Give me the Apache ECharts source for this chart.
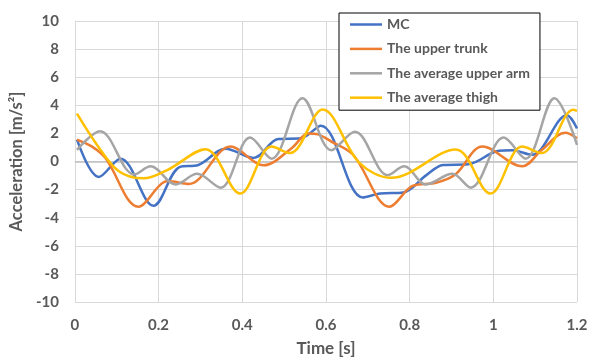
<!DOCTYPE html>
<html>
<head>
<meta charset="utf-8">
<script src="https://cdn.jsdelivr.net/npm/echarts@6/dist/echarts.min.js"></script>
<style>
  html, body { margin: 0; padding: 0; background: #fff; }
  #chart { width: 594px; height: 362px; }
</style>
</head>
<body>
<div id="chart"></div>
<script>
// time [s], acceleration [m/s²]
const mcPoints = [
  [0.005, 1.55], [0.057, -1.1], [0.109, 0.2], [0.188, -3.15], [0.25, -0.4],
  [0.295, -0.25], [0.36, 0.9], [0.427, 0.25], [0.486, 1.6], [0.54, 1.65],
  [0.588, 2.55], [0.688, -2.56], [0.73, -2.28], [0.785, -2.2], [0.84, -0.97],
  [0.88, -0.25], [0.94, -0.2], [1.013, 0.76], [1.045, 0.8], [1.092, 0.48],
  [1.176, 3.3], [1.2, 2.35]
];
const trunkPoints = [
  [0.005, 1.55], [0.041, 1.06], [0.073, 0.25], [0.152, -3.22], [0.223, -1.39],
  [0.272, -1.6], [0.372, 1.06], [0.451, -0.27], [0.518, 0.95], [0.558, 2.0],
  [0.581, 1.93], [0.613, 1.42], [0.665, 0.48], [0.752, -3.22], [0.807, -1.74],
  [0.863, -1.51], [0.91, -0.9], [0.974, 1.06], [1.069, -0.34], [1.116, 0.83],
  [1.172, 2.05], [1.2, 1.65]
];
const armPoints = [
  [0.005, 0.83], [0.06, 2.16], [0.142, -0.92], [0.181, -0.34], [0.241, -1.63],
  [0.292, -0.88], [0.348, -1.86], [0.419, 1.7], [0.47, 0.2], [0.544, 4.5],
  [0.613, 0.8], [0.669, 2.12], [0.748, -0.97], [0.787, -0.34], [0.839, -1.63],
  [0.902, -0.88], [0.946, -1.86], [1.025, 1.7], [1.077, 0.2], [1.146, 4.5],
  [1.2, 1.18]
];
const thighPoints = [
  [0.005, 3.4], [0.053, 1.18], [0.105, -0.69], [0.164, -1.2], [0.223, -0.57],
  [0.312, 0.88], [0.395, -2.28], [0.47, 1.06], [0.514, 0.6], [0.592, 3.7],
  [0.68, -0.1], [0.756, -1.16], [0.91, 0.85], [0.993, -2.28], [1.069, 1.06],
  [1.116, 0.6], [1.191, 3.68], [1.2, 3.6]
];
const seriesNames = ['MC', 'The upper trunk', 'The average upper arm', 'The average thigh'];
const seriesColors = ['#4472C4', '#ED7D31', '#A5A5A5', '#FFC000'];

const textColor = '#595959';
const font = 'Lato, "Open Sans", sans-serif';

const chart = echarts.init(document.getElementById('chart'));

const series = [mcPoints, trunkPoints, armPoints, thighPoints].map((pts, i) => ({
  name: seriesNames[i],
  type: 'line',
  data: pts,
  smooth: 0.35,
  showSymbol: false,
  symbol: 'none',
  lineStyle: { width: 2.5, color: seriesColors[i] },
  itemStyle: { color: seriesColors[i] },
  z: 3 + i,
}));

// darker line at y = 0 (where Excel's horizontal axis crosses)
series[0].markLine = {
  silent: true,
  symbol: 'none',
  label: { show: false },
  lineStyle: { color: '#BFBFBF', width: 1.5, type: 'solid' },
  data: [{ yAxis: 0 }],
  z: 1,
};

chart.setOption({
  animation: false,
  textStyle: { fontFamily: font },
  grid: { left: 72, right: 17, top: 21, bottom: 55.5 },
  legend: {
    data: seriesNames,
    orient: 'vertical',
    left: 339,
    top: 13,
    icon: 'rect',
    itemWidth: 32,
    itemHeight: 2.5,
    itemGap: 7.4,
    padding: [3, 10, 4, 11],
    backgroundColor: '#fff',
    borderColor: '#000',
    borderWidth: 1,
    textStyle: { color: textColor, fontSize: 14, fontWeight: 'bold', fontFamily: font, lineHeight: 17 },
  },
  xAxis: {
    type: 'value',
    min: 0,
    max: 1.2,
    interval: 0.2,
    name: 'Time [s]',
    nameLocation: 'middle',
    nameGap: 38,
    nameTextStyle: { color: textColor, fontSize: 17, fontWeight: 'bold', fontFamily: font },
    axisLine: { show: false },
    axisTick: { show: false },
    axisLabel: {
      color: textColor, fontSize: 15, fontWeight: 'bold', margin: 16,
      formatter: v => String(+v.toFixed(1)),
    },
    splitLine: { show: true, lineStyle: { color: '#D9D9D9', width: 1 } },
  },
  yAxis: {
    type: 'value',
    min: -10,
    max: 10,
    interval: 2,
    name: 'Acceleration [m/s²]',
    nameLocation: 'middle',
    nameGap: 40,
    nameTextStyle: { color: textColor, fontSize: 16.5, fontWeight: 'bold', fontFamily: font },
    axisLine: { show: true, lineStyle: { color: '#D9D9D9', width: 1 } },
    axisTick: { show: false },
    axisLabel: { color: textColor, fontSize: 15, fontWeight: 'bold', margin: 16 },
    splitLine: { show: true, lineStyle: { color: '#D9D9D9', width: 1 } },
  },
  series: series,
});
</script>
</body>
</html>
